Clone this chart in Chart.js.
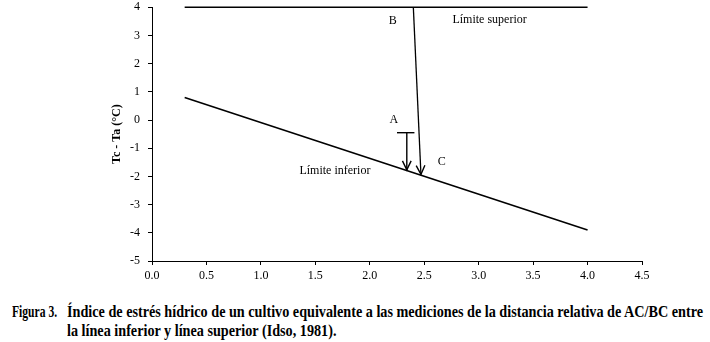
<!DOCTYPE html>
<html>
<head>
<meta charset="utf-8">
<script src="https://cdn.jsdelivr.net/npm/chart.js@4"></script>
<style>
body { margin: 0; background: #fff; }
#wrap { position: relative; width: 710px; height: 342px; overflow: hidden; }
#c { position: absolute; left: 0; top: -8px; }
.cap { position: absolute; font-family: "Liberation Serif", serif; font-weight: bold; font-size: 17px;
       white-space: nowrap; transform-origin: 0 0; line-height: 19px; color: #000; }
</style>
</head>
<body>
<div id="wrap">
  <canvas id="c" width="710" height="299"></canvas>
  <div class="cap" id="cap1" style="left:12px;top:302px">Figura 3.</div>
  <div class="cap" id="cap2" style="left:67px;top:302px">Índice de estrés hídrico de un cultivo equivalente a las mediciones de la distancia relativa de AC/BC entre</div>
  <div class="cap" id="cap3" style="left:67px;top:321px">la línea inferior y línea superior (Idso, 1981).</div>
</div>
<script>
// datos
const limiteInferior = [{x: 0.3, y: 0.8}, {x: 4.0, y: -3.9}];
const limiteSuperior = [{x: 0.3, y: 4.0}, {x: 4.0, y: 4.0}];
const lineaBC = [{x: 2.40, y: 4.0}, {x: 2.47, y: -1.93}];
const flechaA = [{x: 2.34, y: -0.45}, {x: 2.34, y: -1.77}];
const barraA = [{x: 2.25, y: -0.45}, {x: 2.41, y: -0.45}];
const xTicks = [0, 0.5, 1, 1.5, 2, 2.5, 3, 3.5, 4, 4.5];
const yTicks = [-5, -4, -3, -2, -1, 0, 1, 2, 3, 4];
const etiquetas = [
  {text: 'B', x: 2.21, y: 3.52},
  {text: 'Límite superior', x: 3.10, y: 3.55},
  {text: 'A', x: 2.22, y: 0.0},
  {text: 'C', x: 2.66, y: -1.5},
  {text: 'Límite inferior', x: 1.68, y: -1.79}
];

function linea(data, w) {
  return {data: data, borderColor: '#000', borderWidth: w, pointRadius: 0, fill: false, tension: 0};
}

/* puntas de flecha y textos */
const extras = {
  id: 'extras',
  afterDatasetsDraw(chart) {
    const ctx = chart.ctx;
    const xs = chart.scales.x, ys = chart.scales.y;
    ctx.save();
    ctx.strokeStyle = '#000';
    ctx.lineWidth = 1.4;
    [lineaBC, flechaA].forEach(d => {
      const p0 = {x: xs.getPixelForValue(d[0].x), y: ys.getPixelForValue(d[0].y)};
      const p1 = {x: xs.getPixelForValue(d[1].x), y: ys.getPixelForValue(d[1].y)};
      const ang = Math.atan2(p1.y - p0.y, p1.x - p0.x);
      const len = 10, a = 0.45;
      ctx.beginPath();
      ctx.moveTo(p1.x - len * Math.cos(ang - a), p1.y - len * Math.sin(ang - a));
      ctx.lineTo(p1.x, p1.y);
      ctx.lineTo(p1.x - len * Math.cos(ang + a), p1.y - len * Math.sin(ang + a));
      ctx.stroke();
    });
    ctx.fillStyle = '#000';
    ctx.font = '12px "Liberation Serif", serif';
    ctx.textAlign = 'center';
    ctx.textBaseline = 'middle';
    etiquetas.forEach(e => {
      ctx.fillText(e.text, xs.getPixelForValue(e.x), ys.getPixelForValue(e.y));
    });
    ctx.restore();
  }
};

new Chart(document.getElementById('c'), {
  type: 'line',
  data: {
    datasets: [
      linea(limiteSuperior, 1.6),
      linea(limiteInferior, 1.6),
      linea(lineaBC, 1.3),
      linea(flechaA, 1.4),
      linea(barraA, 1.4)
    ]
  },
  options: {
    responsive: false,
    animation: false,
    clip: false,
    layout: {padding: {left: 0, right: 68, top: 7, bottom: 0}},
    plugins: {legend: {display: false}, tooltip: {enabled: false}},
    scales: {
      x: {
        type: 'linear', min: 0, max: 4.5,
        afterBuildTicks: s => { s.ticks = xTicks.map(v => ({value: v})); },
        afterFit: s => { s.height = 30; },
        border: {color: '#000', width: 1},
        grid: {drawOnChartArea: false, tickLength: 4, color: '#000'},
        ticks: {color: '#000', padding: 4, maxRotation: 0, font: {family: '"Liberation Serif", serif', size: 12},
                callback: v => v.toFixed(1)}
      },
      y: {
        type: 'linear', min: -5, max: 4,
        afterBuildTicks: s => { s.ticks = yTicks.map(v => ({value: v})); },
        afterFit: s => { s.width = 152; },
        border: {color: '#000', width: 1},
        grid: {drawOnChartArea: false, tickLength: 4, color: '#000'},
        ticks: {color: '#000', padding: 8, font: {family: '"Liberation Serif", serif', size: 12}},
        title: {display: true, text: 'Tc - Ta (°C)', color: '#000', padding: {top: 110, bottom: 0},
                font: {family: '"Liberation Serif", serif', size: 12, weight: 'bold'}}
      }
    }
  },
  plugins: [extras]
});

// ajustar el pie de figura al ancho original
function ajustar(id, ancho) {
  const el = document.getElementById(id);
  const k = ancho / el.offsetWidth;
  el.style.transform = 'scaleX(' + k + ')';
  return k;
}
ajustar('cap1', 45);
const k = ajustar('cap2', 636);
document.getElementById('cap3').style.transform = 'scaleX(' + k + ')';
</script>
</body>
</html>
